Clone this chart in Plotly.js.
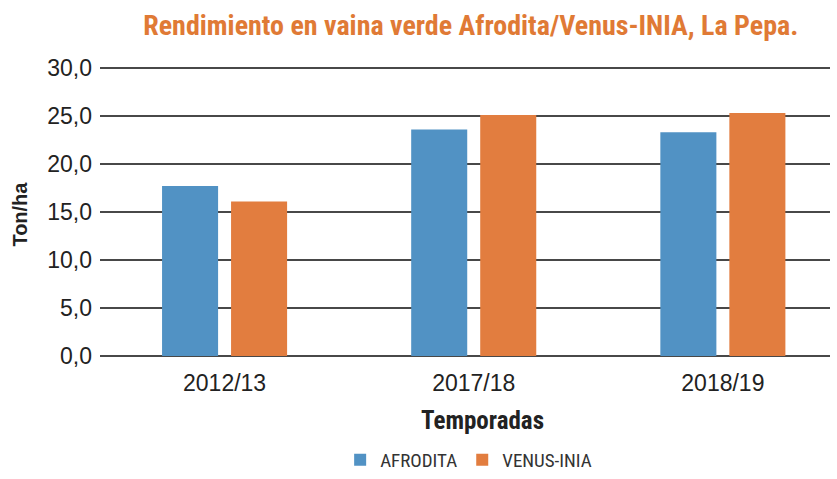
<!DOCTYPE html>
<html>
<head>
<meta charset="utf-8">
<script src="https://cdn.plot.ly/plotly-3.0.1.min.js"></script>
<style>html,body{margin:0;padding:0;background:#fff;}#chart{width:837px;height:479px;}</style>
</head>
<body>
<div id="chart"></div>
<script>
const categories = ['2012/13', '2017/18', '2018/19'];
const afrodita = [17.7, 23.6, 23.3];
const venus = [16.1, 25.1, 25.3];
const seriesNames = ['AFRODITA', 'VENUS-INIA'];
const yTicks = [0, 5, 10, 15, 20, 25, 30];

const condensed = '"Liberation Sans Narrow", "Roboto Condensed", "Arial Narrow", Roboto, sans-serif';

const traces = [
  {type: 'bar', name: seriesNames[0], x: categories, y: afrodita, marker: {color: '#5192C4'}, hoverinfo: 'none'},
  {type: 'bar', name: seriesNames[1], x: categories, y: venus, marker: {color: '#E27D3F'}, hoverinfo: 'none'}
];

const layout = {
  width: 837, height: 479,
  margin: {l: 100, r: 7, t: 66, b: 123, autoexpand: false},
  paper_bgcolor: '#fff', plot_bgcolor: '#fff',
  separators: ',.',
  barmode: 'group', bargap: 0.446, bargroupgap: 0.188,
  showlegend: true,
  title: {
    text: 'Rendimiento en vaina verde Afrodita/Venus-INIA, La Pepa.',
    font: {family: condensed, size: 28, color: '#E07A35', weight: 700},
    x: 0.508, xanchor: 'center', xref: 'paper',
    y: 0.948, yanchor: 'middle', yref: 'container'
  },
  xaxis: {
    type: 'category', range: [-0.5, 2.43], automargin: false,
    showgrid: false, zeroline: false, showline: false,
    ticks: '', tickfont: {family: 'Liberation Sans, Arial, sans-serif', size: 23, color: '#222'},
    ticklabelstandoff: 11
  },
  yaxis: {
    range: [0, 30.2], tickvals: yTicks, tickformat: '.1f', automargin: false,
    showgrid: true, gridcolor: '#484848', gridwidth: 1.5,
    zeroline: true, zerolinecolor: '#484848', zerolinewidth: 1.5,
    showline: false, ticks: '',
    tickfont: {family: 'Liberation Sans, Arial, sans-serif', size: 23, color: '#222'},
    ticklabelstandoff: 7
  },
  legend: {
    orientation: 'h', x: 0.505, xanchor: 'center', xref: 'paper',
    y: 0, yanchor: 'bottom', yref: 'container',
    font: {family: condensed, size: 19, color: '#333'},
    itemwidth: 30, traceorder: 'normal'
  },
  annotations: [
    {text: 'Ton/ha', textangle: -90, xref: 'paper', yref: 'paper', x: -0.11, y: 0.49,
     xanchor: 'center', yanchor: 'middle', showarrow: false,
     font: {family: 'Liberation Sans, Arial, sans-serif', size: 20, color: '#222', weight: 700}},
    {text: 'Temporadas', xref: 'paper', yref: 'paper', x: 0.524, y: -0.224,
     xanchor: 'center', yanchor: 'middle', showarrow: false,
     font: {family: condensed, size: 25, color: '#222', weight: 700}}
  ]
};

Plotly.newPlot('chart', traces, layout, {displayModeBar: false, staticPlot: true});
</script>
</body>
</html>
